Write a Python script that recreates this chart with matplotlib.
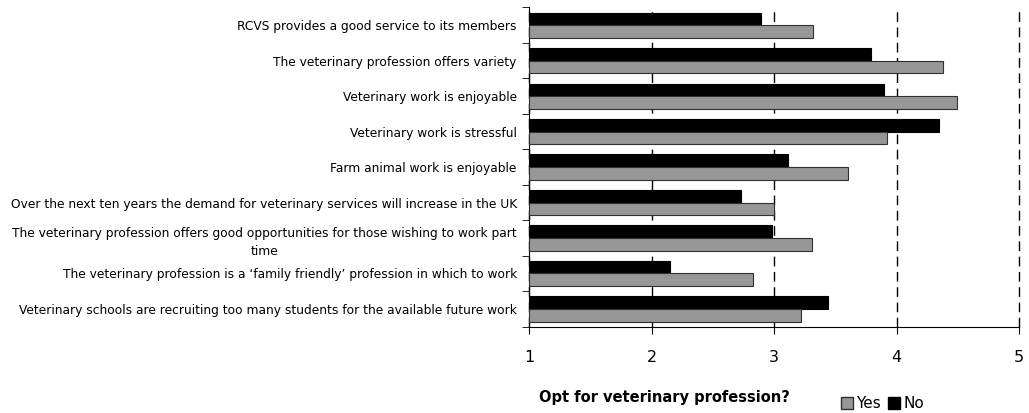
import numpy as np
import matplotlib.pyplot as plt
from matplotlib.patches import Patch

statements = [
    "RCVS provides a good service to its members",
    "The veterinary profession offers variety",
    "Veterinary work is enjoyable",
    "Veterinary work is stressful",
    "Farm animal work is enjoyable",
    "Over the next ten years the demand for veterinary services will increase in the UK",
    "The veterinary profession offers good opportunities for those wishing to work part\ntime",
    "The veterinary profession is a \u2018family friendly\u2019 profession in which to work",
    "Veterinary schools are recruiting too many students for the available future work",
]
yes_scores = [3.32, 4.38, 4.49, 3.92, 3.60, 3.00, 3.31, 2.83, 3.22]
no_scores = [2.89, 3.79, 3.90, 4.35, 3.11, 2.73, 2.98, 2.15, 3.44]

fig = plt.figure(figsize=(10.29, 4.13), dpi=100)
ax = fig.add_axes([0.5144, 0.209, 0.4759, 0.773])

y = np.arange(len(statements))
h = 0.355
base = 1

ax.barh(y - h / 2, np.array(no_scores) - base, h, left=base, color='black',
        edgecolor='black', linewidth=0.8, zorder=3)
ax.barh(y + h / 2, np.array(yes_scores) - base, h, left=base, color='#979797',
        edgecolor='#303030', linewidth=0.8, zorder=3)

ax.set_xlim(1, 5)
ax.set_ylim(len(statements) - 0.5, -0.5)
ax.set_xticks([1, 2, 3, 4, 5])
ax.tick_params(axis='x', labelsize=11.5, length=5, direction='out', pad=12)

ax.set_yticks(y)
ax.set_yticklabels(statements, fontsize=8.8, multialignment='center',
                   linespacing=1.5)
ax.set_yticks(np.arange(len(statements) + 1) - 0.5, minor=True)
ax.tick_params(axis='y', which='major', length=0, pad=9)
ax.tick_params(axis='y', which='minor', length=5, direction='out')

ax.xaxis.grid(True, linestyle=(0, (7, 4)), color='black', linewidth=1)
for gl in ax.get_xgridlines():
    gl.set_clip_on(False)
ax.set_axisbelow(True)

for side in ('top', 'right'):
    ax.spines[side].set_visible(False)

fig.text(0.524, 0.02, "Opt for veterinary profession?", fontsize=10.5,
         fontweight='bold', ha='left', va='bottom')
handles = [Patch(facecolor='#979797', edgecolor='#303030', label='Yes'),
           Patch(facecolor='black', edgecolor='black', label='No')]
fig.legend(handles=handles, loc='lower left', bbox_to_anchor=(0.808, -0.018),
           ncol=2, frameon=False, fontsize=11, handlelength=0.8,
           handleheight=0.8, handletextpad=0.2, columnspacing=0.5,
           borderaxespad=0.2)

plt.savefig("out.png")
